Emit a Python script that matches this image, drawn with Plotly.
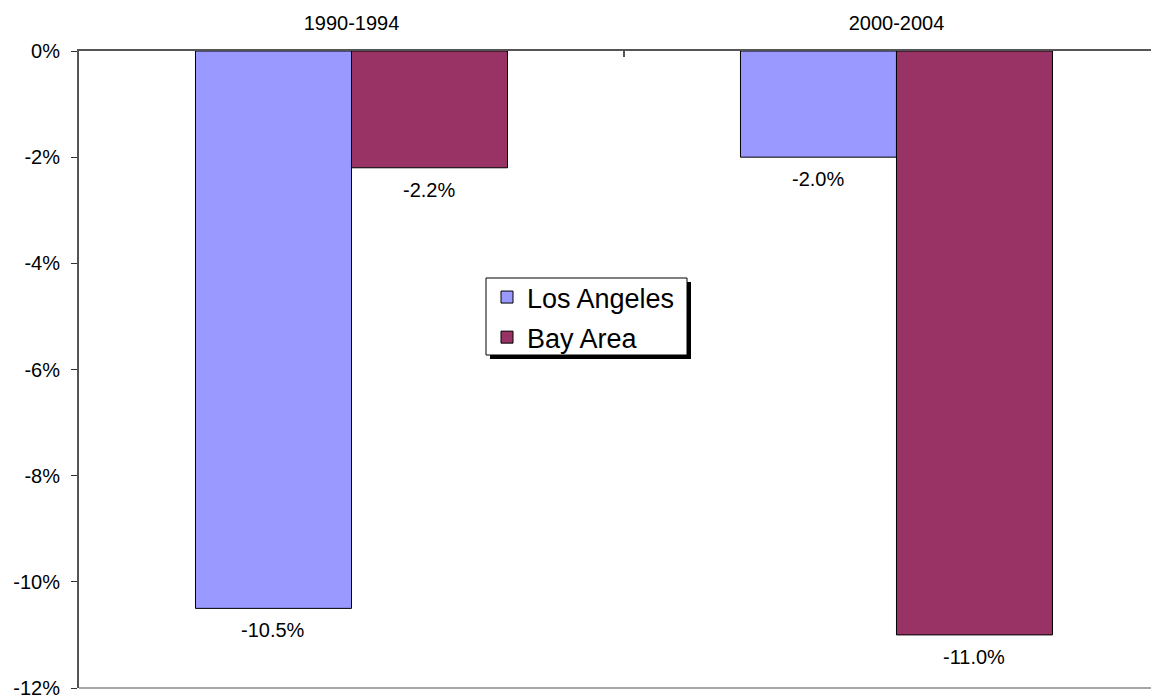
import plotly.graph_objects as go

periods = ["1990-1994", "2000-2004"]
los_angeles = [-10.5, -2.0]
bay_area = [-2.2, -11.0]
y_ticks = [0, -2, -4, -6, -8, -10, -12]
y_tick_text = ["0%", "-2%", "-4%", "-6%", "-8%", "-10%", "-12%"]

FONT = "Liberation Sans, Arial, sans-serif"
BARGAP = 0.4275
series = [("Los Angeles", los_angeles, "#9999FF"),
          ("Bay Area", bay_area, "#993366")]

fig = go.Figure()
for name, vals, col in series:
    fig.add_trace(go.Bar(
        x=periods, y=vals, name=name, legendgroup=name,
        marker=dict(color=col, line=dict(color="black", width=1)),
    ))

# value labels below bar ends, placed via the axes
bar_w = (1 - BARGAP) / len(series)
for si, (name, vals, col) in enumerate(series):
    offset = -(1 - BARGAP) / 2 + bar_w * (si + 0.5)
    for ci, v in enumerate(vals):
        fig.add_annotation(x=ci + offset, y=v, xref="x", yref="y",
                           text="%.1f%%" % v, showarrow=False,
                           yanchor="middle", yshift=-22,
                           font=dict(family=FONT, size=20, color="black"))

# plot domain in page px: x 79..1159, y 51..688
PW, PH = 1080, 637
def px(x):
    return (x - 79) / PW
def py(y):
    return 1 - (y - 51) / PH

# legend shadow and box
fig.add_shape(type="rect", xref="paper", yref="paper",
              x0=px(490), x1=px(691), y0=py(359), y1=py(282),
              fillcolor="black", line=dict(width=0), layer="above")
fig.add_shape(type="rect", xref="paper", yref="paper",
              x0=px(486), x1=px(687), y0=py(355), y1=py(278),
              fillcolor="white", line=dict(color="black", width=1), layer="above")
# bottom gray line
fig.add_shape(type="line", xref="paper", yref="paper", x0=0, x1=1, y0=0, y1=0,
              line=dict(color="#A6A6A6", width=2), layer="above")

fig.update_layout(
    width=1151, height=688,
    margin=dict(l=71, r=0, t=43, b=8, autoexpand=False),
    paper_bgcolor="white", plot_bgcolor="white",
    barmode="group", bargap=BARGAP, bargroupgap=0,
    font=dict(family=FONT, color="black", size=20),
    legend=dict(x=px(487), y=py(273),
                xanchor="left", yanchor="top",
                bgcolor="rgba(0,0,0,0)", borderwidth=0,
                font=dict(size=27, family=FONT), tracegroupgap=2,
                itemwidth=30),
    showlegend=True,
)
fig.update_xaxes(
    type="category", side="top", range=[-0.5, 1.4817],
    showline=True, linecolor="#555555", linewidth=2,
    ticks="inside", ticklen=6, tickcolor="#555555", tickwidth=2,
    tickson="boundaries", ticklabelstandoff=11,
    tickfont=dict(size=20, family=FONT), showgrid=False, automargin=False,
)
fig.update_yaxes(
    range=[-12, 0], tickmode="array", tickvals=y_ticks, ticktext=y_tick_text,
    showline=True, linecolor="#555555", linewidth=2,
    ticks="outside", ticklen=6, tickcolor="#333333", tickwidth=1,
    ticklabelstandoff=7, ticklabeloverflow="allow",
    tickfont=dict(size=20, family=FONT), showgrid=False, zeroline=False,
    automargin=False,
)

fig.write_html("out.html")
